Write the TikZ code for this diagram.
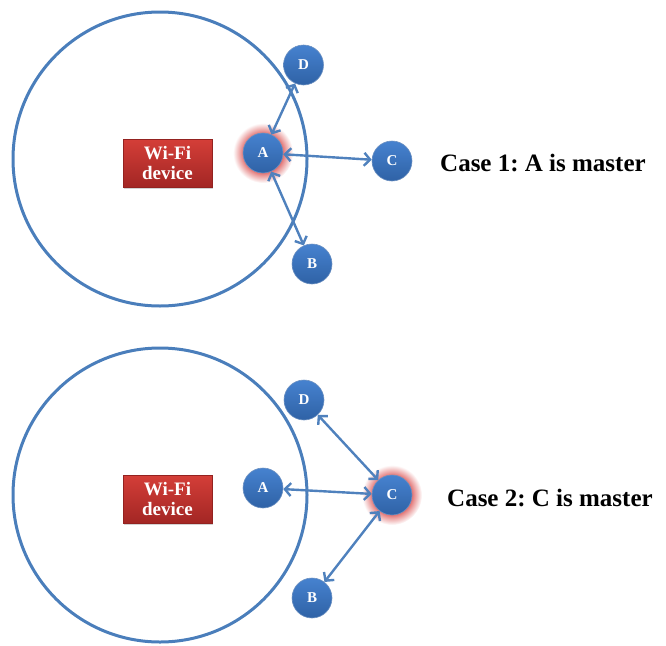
\documentclass[tikz,border=0pt]{standalone}
\usepackage{fontspec}
\setmainfont{Liberation Serif}
\usetikzlibrary{arrows.meta,shadows}
\definecolor{ringblue}{HTML}{4A7EBB}
\definecolor{arrowblue}{HTML}{4F81BD}
\definecolor{nodetop}{HTML}{4682CF}
\definecolor{nodebot}{HTML}{2F62A6}
\definecolor{boxtop}{HTML}{D43E38}
\definecolor{boxbot}{HTML}{A32624}
\definecolor{glowred}{HTML}{E06A6A}
\pgfdeclareradialshading{glowshade}{\pgfpoint{0bp}{0bp}}{color(0bp)=(glowred); color(16bp)=(glowred); color(19bp)=(glowred!65!white); color(25bp)=(white); color(50bp)=(white)}
\tikzset{
  ring/.style={draw=ringblue, line width=3pt},
  dev/.style={circle, minimum size=40pt, inner sep=0pt, draw=nodebot!70!white, line width=0.6pt,
    top color=nodetop, bottom color=nodebot, text=white, font=\fontsize{15}{17}\selectfont\bfseries},
  wifi/.style={rectangle, minimum width=89pt, minimum height=48pt, inner sep=0pt, draw=boxbot!90!black, line width=0.5pt,
    top color=boxtop, bottom color=boxbot, text=white, align=center,
    font=\fontsize{19}{20}\selectfont\bfseries, drop shadow={shadow xshift=1pt, shadow yshift=-1.5pt, opacity=0.35}},
  link/.style={draw=arrowblue, line width=2.4pt, {Straight Barb[length=6pt,width=13pt]}-{Straight Barb[length=6pt,width=13pt]}},
  caption/.style={anchor=west, font=\fontsize{25}{30}\selectfont\bfseries, inner sep=0pt},
}
\begin{document}
\frenchspacing
\begin{tikzpicture}[x=1pt,y=-1pt]
\useasboundingbox (0,0) rectangle (666,645);
% ---------- Case 1 ----------
\draw[ring] (160,159) circle (147);
\node[wifi] (w1) at (167.5,163) {Wi-Fi\\device};
\shade[shading=glowshade] (263,153) circle (30);
\node[dev] (A1) at (263,153) {A};
\node[dev] (D1) at (303.5,65) {D};
\node[dev] (C1) at (392,161) {C};
\node[dev] (B1) at (312,264) {B};
\draw[link] (A1) -- (D1);
\draw[link] (A1) -- (C1);
\draw[link] (A1) -- (B1);
\node[caption] (t1) at (440,163) {Case 1: A is master};
% ---------- Case 2 ----------
\draw[ring] (160,495) circle (147);
\node[wifi] (w2) at (167.5,499) {Wi-Fi\\device};
\shade[shading=glowshade] (392,495) circle (30);
\node[dev] (A2) at (263,488) {A};
\node[dev] (D2) at (304,400) {D};
\node[dev] (C2) at (392,495) {C};
\node[dev] (B2) at (312,598) {B};
\draw[link] (C2) -- (D2);
\draw[link] (C2) -- (A2);
\draw[link] (C2) -- (B2);
\node[caption] (t2) at (447,498) {Case 2: C is master};
\end{tikzpicture}
\end{document}
